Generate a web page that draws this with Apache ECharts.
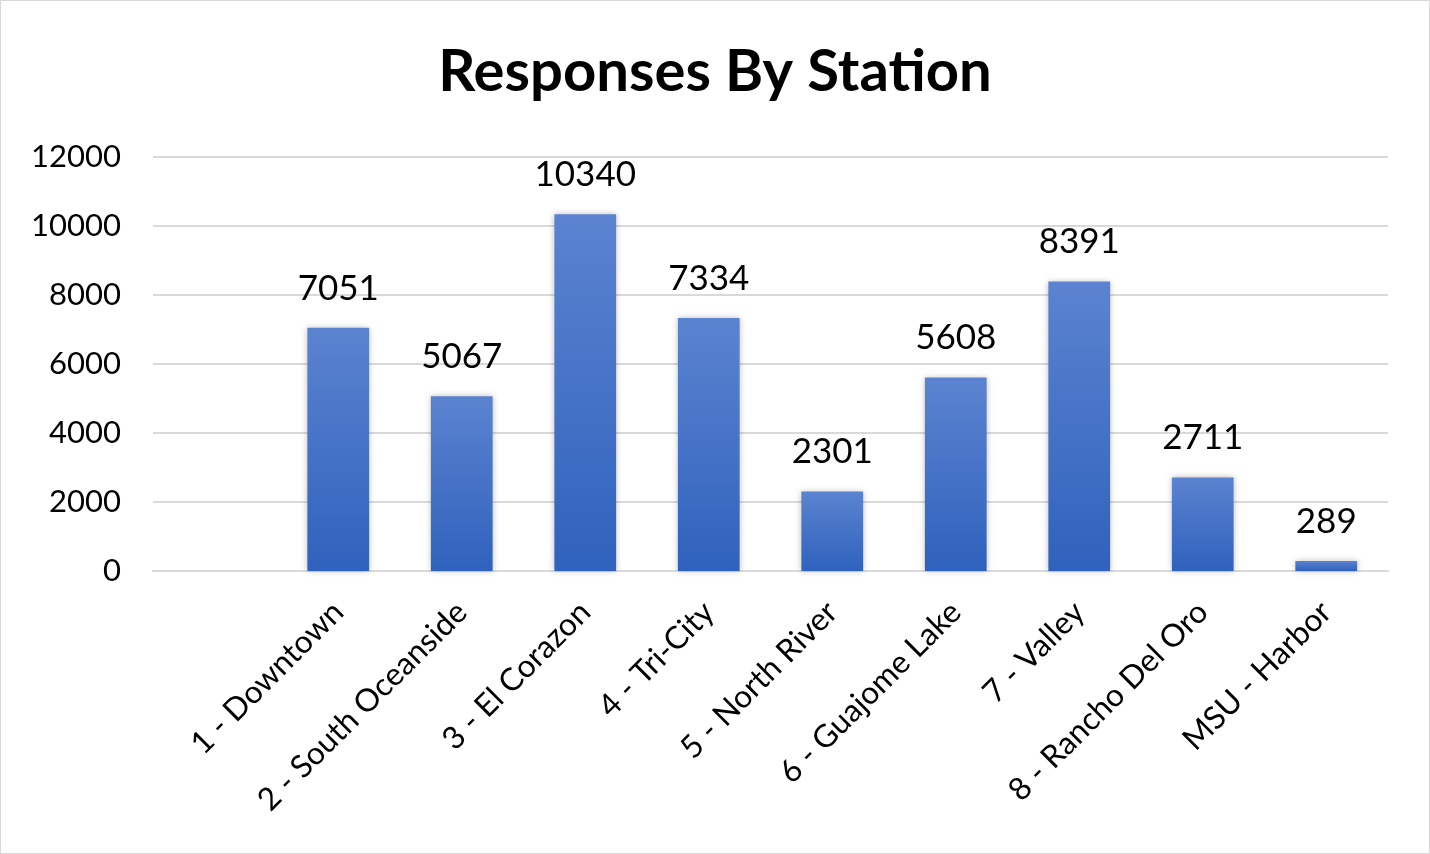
<!DOCTYPE html>
<html>
<head>
<meta charset="utf-8">
<script src="https://cdn.jsdelivr.net/npm/echarts@6/dist/echarts.min.js"></script>
<style>
html,body{margin:0;padding:0;background:#fff;}
#wrap{position:absolute;left:0;top:0;width:1428px;height:852px;border:1px solid #d9d9d9;}
#chart{width:1428px;height:852px;}
</style>
</head>
<body>
<div id="wrap"><div id="chart"></div></div>
<script>
const categories = ['', '1 - Downtown', '2 - South Oceanside', '3 - El Corazon', '4 - Tri-City', '5 - North River', '6 - Guajome Lake', '7 - Valley', '8 - Rancho Del Oro', 'MSU - Harbor'];
const responses = [null, 7051, 5067, 10340, 7334, 2301, 5608, 8391, 2711, 289];
const yTicks = [0, 2000, 4000, 6000, 8000, 10000, 12000];

const FONT = 'Lato, "Open Sans", sans-serif';
const chart = echarts.init(document.getElementById('chart'));
chart.setOption({
  animation: false,
  title: {
    text: 'Responses By Station',
    left: 'center',
    top: 37,
    textStyle: { fontFamily: FONT, fontWeight: 'bold', fontSize: 58, color: '#000' }
  },
  grid: { left: 152, right: 41, top: 156, bottom: 282, containLabel: false },
  xAxis: {
    type: 'category',
    data: categories,
    axisLine: { show: true, lineStyle: { color: '#d9d9d9', width: 2 } },
    axisTick: { show: false },
    axisLabel: {
      interval: 0,
      rotate: 45,
      margin: 36,
      fontFamily: FONT,
      fontSize: 31.5,
      color: '#000'
    }
  },
  yAxis: {
    type: 'value',
    min: yTicks[0],
    max: yTicks[yTicks.length - 1],
    interval: yTicks[1] - yTicks[0],
    axisLine: { show: false },
    axisTick: { show: false },
    splitLine: { lineStyle: { color: '#d9d9d9', width: 2 } },
    axisLabel: { fontFamily: FONT, fontSize: 31, color: '#000', margin: 32, formatter: v => String(v) }
  },
  series: [{
    type: 'bar',
    data: responses,
    barWidth: '50%',
    itemStyle: {
      color: new echarts.graphic.LinearGradient(0, 0, 0, 1, [
        { offset: 0, color: '#5b83d0' },
        { offset: 1, color: '#2f62bd' }
      ]),
      shadowColor: 'rgba(0,0,0,0.25)',
      shadowBlur: 6,
      shadowOffsetX: 0,
      shadowOffsetY: 0
    },
    label: {
      show: true,
      position: 'top',
      distance: 22,
      fontFamily: FONT,
      fontSize: 35,
      color: '#000'
    }
  }]
});
</script>
</body>
</html>
